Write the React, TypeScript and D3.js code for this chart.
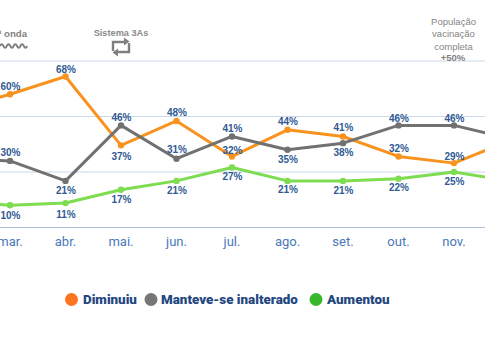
import React from "react";
import * as d3 from "d3";

const months = ["fev.", "mar.", "abr.", "mai.", "jun.", "jul.", "ago.", "set.", "out.", "nov.", "dez."];
const diminuiu = [53, 60, 68, 37, 48, 32, 44, 41, 32, 29, 39];
const manteve = [31, 30, 21, 46, 31, 41, 35, 38, 46, 46, 40];
const aumentou = [12, 10, 11, 17, 21, 27, 21, 21, 22, 25, 21];
const dimOffsets = [0, -4.5, -3.5, 14.3, -4.7, -2.5, -4.8, -5.5, -4.8, -3.4, 0];
const manOffsets = [0, -5.3, 13.4, -4.7, -5.4, -4.5, 12.9, 12.6, -3.7, -3, 0];
const aumOffsets = [0, 13.7, 14.7, 13.2, 13.4, 12.8, 12.4, 13.4, 12.3, 13, 0];
const gridValues = [25, 50, 75];
const legendItems = [
  { label: "Diminuiu", color: "#fb7420", cx: 71.5, tx: 83 },
  { label: "Manteve-se inalterado", color: "#767676", cx: 151, tx: 161 },
  { label: "Aumentou", color: "#39b82e", cx: 316, tx: 327 },
];
const popLines = ["População", "vacinação", "completa"];

const x = d3.scaleLinear().domain([1, 9]).range([10, 454]);
const y = d3.scaleLinear().domain([0, 75]).range([227.5, 61]);

function Series({ values, color }: { values: number[]; color: string }) {
  const line = d3.line<number>().x((_, i) => x(i)).y((d) => y(d));
  return (
    <g>
      <path d={line(values) ?? ""} fill="none" stroke={color} strokeWidth={3} strokeLinejoin="round" />
      {values.map((v, i) => (
        <circle key={i} cx={x(i)} cy={y(v)} r={3.2} fill={color} />
      ))}
    </g>
  );
}

function Labels({ values, offsets }: { values: number[]; offsets: number[] }) {
  return (
    <g>
      {values.map((v, i) =>
        i > 0 && i < 10 ? (
          <text
            key={i}
            x={x(i) + 0.5}
            y={y(v) + offsets[i]}
            textAnchor="middle"
            fontFamily="'Liberation Sans', sans-serif"
            fontWeight={700}
            fontSize={10}
            fill="#305a94"
          >
            {v}%
          </text>
        ) : null
      )}
    </g>
  );
}

export default function App() {
  const wave = "M0,46 q1.7,-3.5 3.4,0 t3.4,0 t3.4,0 t3.4,0 t3.4,0 t3.4,0 t3.4,0 t3.4,0";
  return (
    <svg
      width={485}
      height={360}
      viewBox="0 0 485 360"
      style={{ position: "absolute", left: 0, top: 0, background: "#fff" }}
    >
      {gridValues.map((g) => (
        <line key={g} x1={0} x2={485} y1={y(g)} y2={y(g)} stroke="#cbd8ea" strokeWidth={1} />
      ))}
      <line x1={0} x2={485} y1={y(0)} y2={y(0)} stroke="#a9c0dc" strokeWidth={1.2} />

      <Series values={diminuiu} color="#f7931e" />
      <Series values={manteve} color="#717171" />
      <Series values={aumentou} color="#7ddc50" />
      <Labels values={diminuiu} offsets={dimOffsets} />
      <Labels values={manteve} offsets={manOffsets} />
      <Labels values={aumentou} offsets={aumOffsets} />

      {months.map((m, i) =>
        i > 0 && i < 10 ? (
          <text
            key={m}
            x={x(i)}
            y={245.5}
            textAnchor="middle"
            fontFamily="Roboto, sans-serif"
            fontSize={13}
            fill="#4a78b8"
          >
            {m}
          </text>
        ) : null
      )}

      <text x={27} y={37} textAnchor="end" fontFamily="'Liberation Sans', sans-serif" fontWeight={700} fontSize={9.6} fill="#7f7f7f">
        2ª onda
      </text>
      <path d={wave} fill="none" stroke="#7f7f7f" strokeWidth={1.9} />

      <text x={121} y={35.5} textAnchor="middle" fontFamily="'Liberation Sans', sans-serif" fontWeight={700} fontSize={9.2} fill="#8a8a8a">
        Sistema 3As
      </text>
      <g fill="none" stroke="#7f7f7f" strokeWidth={2.4}>
        <path d="M113,51 V42 H125" />
        <path d="M129,43 V52 H117" />
      </g>
      <path d="M124,37.5 L129.5,41.5 L124,45.5 Z M118,48.5 L112.5,52.5 L118,56.5 Z" fill="#7f7f7f" />

      {popLines.map((t, i) => (
        <text key={t} x={453.5} y={25 + i * 12.4} textAnchor="middle" fontFamily="'Liberation Sans', sans-serif" fontWeight={400} fontSize={9.5} fill="#858585">
          {t}
        </text>
      ))}
      <text x={453} y={60.5} textAnchor="middle" fontFamily="'Liberation Sans', sans-serif" fontWeight={700} fontSize={9.5} fill="#7f7f7f">
        +50%
      </text>

      {legendItems.map((d) => (
        <g key={d.label}>
          <circle cx={d.cx} cy={299.5} r={6.5} fill={d.color} />
          <text x={d.tx} y={304} fontFamily="Roboto, sans-serif" fontWeight={900} fontSize={13.4} fill="#24477f">
            {d.label}
          </text>
        </g>
      ))}
    </svg>
  );
}
